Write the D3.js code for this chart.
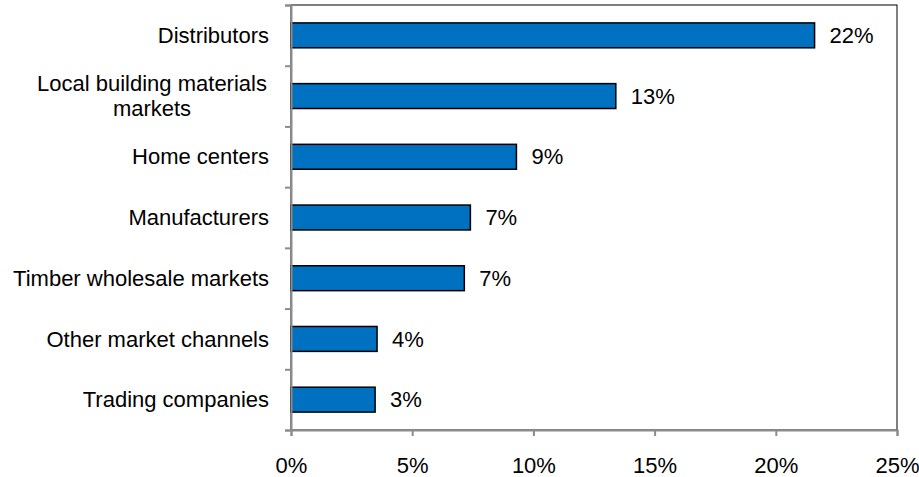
<!DOCTYPE html>
<html>
<head>
<meta charset="utf-8">
<script src="https://cdn.jsdelivr.net/npm/d3@7"></script>
<style>
  body { margin: 0; background: #fff; }
  svg text { font-family: "Liberation Sans", Arial, sans-serif; fill: #000; }
  .axis path, .axis line { stroke: #8c8c8c; }
</style>
</head>
<body>
<div id="chart"></div>
<script>
// chart data
const categories = ['Distributors', 'Local building materials|markets', 'Home centers',
  'Manufacturers', 'Timber wholesale markets', 'Other market channels', 'Trading companies'];
const shares = [0.216, 0.134, 0.093, 0.074, 0.0715, 0.0355, 0.0347];
const xTicks = [0, 0.05, 0.10, 0.15, 0.20, 0.25];

// chart setup
let margin = { top: 5, right: 22, bottom: 47, left: 291 };
let width = 919 - margin.left - margin.right;
let height = 477 - margin.top - margin.bottom;
const fontSize = '22px';

let svg = d3.select('#chart').append('svg')
  .attr('width', 919)
  .attr('height', 477);

let group = svg.append('g').attr('transform', `translate(${margin.left}, ${margin.top})`);

let x = d3.scaleLinear().domain([0, 0.25]).range([0, width]);
let y = d3.scaleBand().domain(categories).range([0, height]).paddingInner(0.59).paddingOuter(0.295);
// separator ticks between categories
let yEdge = d3.scaleLinear().domain([0, categories.length]).range([0, height]);

// plot border (top and right show through)
group.append('rect')
  .attr('x', 0).attr('y', 0)
  .attr('width', width).attr('height', height)
  .attr('fill', 'none')
  .attr('stroke', '#000')
  .attr('stroke-width', 1);

// bars
group.selectAll('rect.bar')
  .data(shares)
  .enter()
  .append('rect')
  .attr('class', 'bar')
  .attr('x', 0)
  .attr('y', (d, i) => y(categories[i]))
  .attr('width', d => x(d))
  .attr('height', y.bandwidth())
  .attr('fill', '#0070c0')
  .attr('stroke', '#000')
  .attr('stroke-width', 1.5);

// value labels
group.selectAll('text.value')
  .data(shares)
  .enter()
  .append('text')
  .attr('class', 'value')
  .attr('x', d => x(d) + 15)
  .attr('y', (d, i) => y(categories[i]) + y.bandwidth() / 2)
  .attr('dy', '0.35em')
  .style('font-size', fontSize)
  .text(d => d3.format('.0%')(d));

// category labels
const catLabels = group.selectAll('text.cat')
  .data(categories)
  .enter()
  .append('text')
  .attr('class', 'cat')
  .attr('y', d => y(d) + y.bandwidth() / 2)
  .style('font-size', fontSize);

catLabels.each(function (d) {
  const lines = d.split('|');
  const t = d3.select(this);
  if (lines.length > 1) {
    // wrapped label, centred like the original
    t.attr('text-anchor', 'middle');
    lines.forEach((line, i) => {
      t.append('tspan')
        .attr('x', -139)
        .attr('dy', i === 0 ? `${0.35 - (lines.length - 1) * 0.57}em` : '1.14em')
        .text(line);
    });
  } else {
    t.attr('text-anchor', 'end')
      .append('tspan')
      .attr('x', -22)
      .attr('dy', '0.35em')
      .text(d);
  }
});

// y axis
group.append('g')
  .attr('class', 'axis')
  .call(d3.axisLeft(yEdge).ticks(categories.length).tickSize(6).tickFormat(''))
  .selectAll('path, line')
  .attr('stroke-width', 2);

// x axis
const xAxis = group.append('g')
  .attr('class', 'axis')
  .attr('transform', `translate(0, ${height})`)
  .call(d3.axisBottom(x).tickValues(xTicks).tickSize(6).tickPadding(21).tickFormat(d3.format('.0%')));
xAxis.selectAll('path, line').attr('stroke-width', 2);
xAxis.selectAll('text').style('font-size', fontSize).attr('fill', '#000');
</script>
</body>
</html>
